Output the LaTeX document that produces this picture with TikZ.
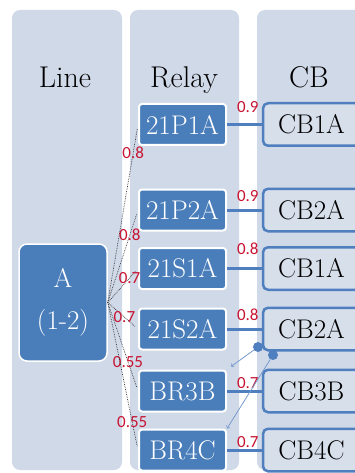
\documentclass[tikz,border=0pt]{standalone}
\usepackage{fontspec}
\newfontfamily\valfont{Carlito}
\usepackage{tikz}
\usetikzlibrary{calc}
\usetikzlibrary{arrows}
\usetikzlibrary{positioning}
\definecolor{colbg}{RGB}{208,217,232}
\definecolor{boxblue}{RGB}{74,126,187}
\definecolor{edgeblue}{RGB}{79,127,190}
\definecolor{ptrblue}{RGB}{120,155,205}
\definecolor{valred}{RGB}{200,20,50}
\tikzset{column/.style={fill=colbg,rounded corners=8pt}}
\tikzset{title/.style={anchor=base,font=\fontsize{30}{32}\selectfont}}
\tikzset{relay/.style={rectangle,rounded corners=3pt,fill=boxblue,draw=white,line width=2pt,text=white,minimum width=87pt,minimum height=41pt,inner sep=0pt,font=\fontsize{27}{30}\selectfont}}
\tikzset{cb/.style={rectangle,rounded corners=5pt,fill=colbg!85!white,draw=edgeblue,line width=2.5pt,minimum width=97pt,minimum height=42.5pt,inner sep=0pt,font=\fontsize{27}{30}\selectfont}}
\tikzset{linebox/.style={rectangle,rounded corners=8pt,fill=boxblue,draw=white,line width=1.5pt,text=white,minimum width=88pt,minimum height=117pt,align=center,font=\fontsize{27}{30}\selectfont}}
\tikzset{link/.style={draw=edgeblue,line width=3pt}}
\tikzset{hop/.style={densely dotted,line width=0.7pt,black!80}}
\tikzset{val/.style={text=valred,inner sep=1pt,font=\valfont\fontsize{17}{18}\selectfont}}
\tikzset{dot/.style={circle,fill=edgeblue,minimum size=10pt,inner sep=0pt}}
\tikzset{ptr/.style={->,draw=ptrblue,line width=0.8pt}}

\begin{document}
\begin{tikzpicture}[x=1pt,y=-1pt]
\useasboundingbox (0,0) rectangle (355,473);
\clip (0,0) rectangle (355,473);
% columns
\fill[column] (12,10) rectangle (122,470);
\fill[column] (130,10) rectangle (239,470);
\fill[column] (257,10) rectangle (375,470);
\node[title] (tline) at (65,88) {Line};
\node[title] (trelay) at (184,88) {Relay};
\node[title] (tcb) at (309,88) {CB};
\node[linebox] (A) at (63,302.5) {A\\[12pt](1-2)};
\foreach \n/\r/\c/\y/\v/\h/\w/\p in {1/21P1A/CB1A/124.5/0.9/9/0.8/0.84,2/21P2A/CB2A/210/0.9/6/0.8/0.73,3/21S1A/CB1A/268.5/0.8/11/0.7/0.72,4/21S2A/CB2A/329/0.8/6/0.7/0.55,5/BR3B/CB3B/391/0.7/0/0.55/0.67,6/BR4C/CB4C/450/0.7/0/0.55/0.81} {
	\node[relay] (R\n) at (182.5,\y) {\r};
	\node[cb] (C\n) at (311.5,\y) {\c};
	\draw[link] (R\n) -- node[val,above=\h pt,pos=0.6] {\v} (C\n);
	\draw[hop,shorten >=4pt] (A.east) -- node[val,pos=\p] {\w} (R\n.west);
}
\node[dot] (d1) at (258,347) {};
\node[dot] (d2) at (273,355) {};
\draw[ptr,shorten >=5pt] (d1) -- (R5.north east);
\draw[ptr] (d2) -- (R6.north east);
\end{tikzpicture}
\end{document}
